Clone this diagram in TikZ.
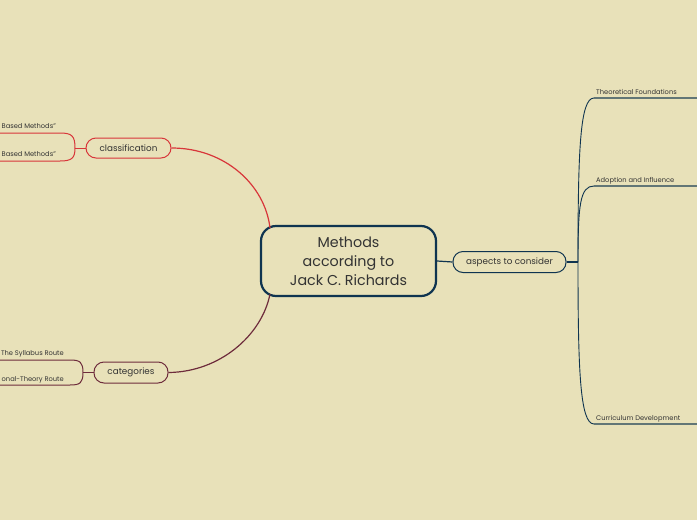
\documentclass[tikz,border=0pt]{standalone}
\usepackage{fontspec}
\setmainfont{Poppins}
\definecolor{bg}{HTML}{E8E1B9}
\definecolor{navy}{HTML}{0F3450}
\definecolor{redc}{HTML}{D8363A}
\definecolor{maroon}{HTML}{6E2C3C}
\definecolor{txt}{HTML}{333333}
\definecolor{uline}{HTML}{627676}
\tikzset{
  central/.style={draw=navy, line width=2.2pt, rounded corners=15pt, minimum width=175pt, minimum height=70pt, align=center, text=txt, font=\fontsize{14.3}{19}\selectfont, inner sep=0pt},
  topic/.style={line width=1pt, rounded corners=10pt, text=txt, font=\fontsize{8.8}{11}\selectfont, inner sep=0pt},
  leaf/.style={text=txt, font=\fontsize{6.7}{8}\selectfont, inner sep=0pt},
  conn/.style={line width=1.2pt},
}
\begin{document}
\begin{tikzpicture}[x=1pt,y=-1pt]
\useasboundingbox (0,0) rectangle (697,520);
\fill[bg] (0,0) rectangle (697,520);

% central
\node[central] (c) at (348.5,261) {Methods\\according to\\Jack C. Richards};

% right side
\node[topic, draw=navy, minimum width=113pt, minimum height=21pt] (asp) at (509.5,262) {aspects to consider};
\coordinate (aj) at (578,262);
\draw[navy, conn] (c.east) -- (asp.west);
\draw[navy, conn] (asp.east) -- (aj);

\coordinate (r1) at (594,98);
\coordinate (r2) at (594,186);
\coordinate (r3) at (594,424);
\coordinate (r1e) at (697,98);
\coordinate (r2e) at (697,186);
\coordinate (r3e) at (697,424);
\draw[navy, line width=0.9pt] (aj) .. controls (578,150) and (580,98) .. (r1);
\draw[navy, line width=0.9pt] (aj) .. controls (578,205) and (580,186) .. (r2);
\draw[navy, line width=0.9pt] (aj) .. controls (578,370) and (580,424) .. (r3);
\draw[uline, line width=1.6pt] (r1) -- (r1e);
\draw[uline, line width=1.6pt] (r2) -- (r2e);
\draw[uline, line width=1.6pt] (r3) -- (r3e);
\node[leaf, anchor=base west] (t1) at (596,94) {Theoretical Foundations};
\node[leaf, anchor=base west] (t2) at (596,182) {Adoption and Influence};
\node[leaf, anchor=base west] (t3) at (596,420) {Curriculum Development};

% classification
\node[topic, draw=redc, minimum width=85pt, minimum height=20pt] (cls) at (128.5,148) {classification};
\coordinate (cl) at (270,228);
\draw[redc, conn] (cls.east) .. controls (225,148) and (265,185) .. (cl);
\coordinate (bj1) at (75,148);
\coordinate (a1) at (0,133);
\coordinate (a2) at (0,161);
\draw[redc, line width=1pt] (cls.west) -- (bj1);
\draw[redc, line width=1pt] (bj1) .. controls (75,136) and (72,133) .. (60,133) -- (a1);
\draw[redc, line width=1pt] (bj1) .. controls (75,158) and (72,161) .. (60,161) -- (a2);
\node[leaf, anchor=base east] (l1) at (56,128) {Based Methods”};
\node[leaf, anchor=base east] (l2) at (56,156) {Based Methods”};

% categories
\node[topic, draw=maroon, minimum width=74pt, minimum height=21pt] (cat) at (131,372.5) {categories};
\coordinate (cb) at (270,294);
\draw[maroon, conn] (cb) .. controls (262,335) and (220,372) .. (cat.east);
\coordinate (bj2) at (83,372.5);
\coordinate (b1) at (0,360);
\coordinate (b2) at (0,385);
\draw[maroon, line width=1pt] (cat.west) -- (bj2);
\draw[maroon, line width=1pt] (bj2) .. controls (83,362) and (80,360) .. (70,360) -- (b1);
\draw[maroon, line width=1pt] (bj2) .. controls (83,383) and (80,385) .. (70,385) -- (b2);
\node[leaf, anchor=base east] (l3) at (64,355) {The Syllabus Route};
\node[leaf, anchor=base east] (l4) at (64,381) {onal-Theory Route};
\end{tikzpicture}
\end{document}
